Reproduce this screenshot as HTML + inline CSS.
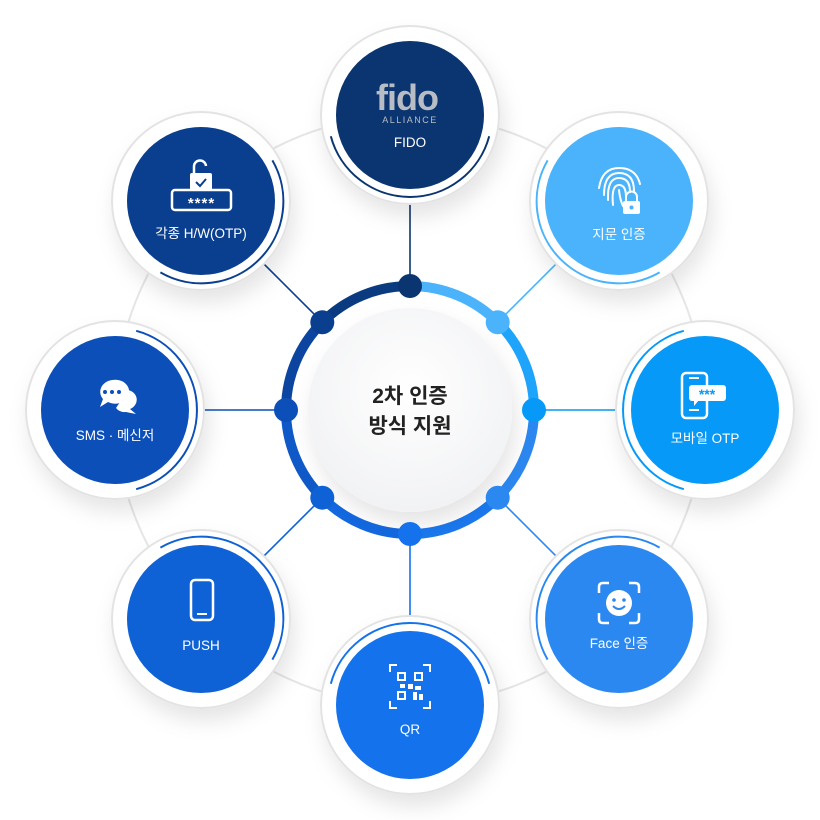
<!DOCTYPE html>
<html><head><meta charset="utf-8"><style>
html,body{margin:0;padding:0;background:#fff;}
svg{display:block;font-family:"Liberation Sans","Noto Sans CJK KR",sans-serif;}
</style></head><body>
<svg width="820" height="820" viewBox="0 0 820 820" xmlns="http://www.w3.org/2000/svg">
<defs>
<filter id="sh" x="-40%" y="-40%" width="180%" height="180%"><feDropShadow dx="4" dy="12" stdDeviation="10" flood-color="#000" flood-opacity="0.10"/></filter>
<radialGradient id="cg" cx="50%" cy="40%" r="60%"><stop offset="0" stop-color="#ffffff"/><stop offset="1" stop-color="#f1f2f4"/></radialGradient>
</defs>
<circle cx="410" cy="410" r="295" fill="none" stroke="#e6e6e6" stroke-width="2"/>
<g stroke-width="1.6">
<line x1="410" y1="286" x2="410" y2="200" stroke="#0b3570"/>
<line x1="410" y1="286" x2="410" y2="200" stroke="#4ab3fb" transform="rotate(45 410 410)"/>
<line x1="410" y1="286" x2="410" y2="200" stroke="#0699f7" transform="rotate(90 410 410)"/>
<line x1="410" y1="286" x2="410" y2="200" stroke="#2b88f0" transform="rotate(135 410 410)"/>
<line x1="410" y1="286" x2="410" y2="200" stroke="#1472ec" transform="rotate(180 410 410)"/>
<line x1="410" y1="286" x2="410" y2="200" stroke="#0f62d6" transform="rotate(225 410 410)"/>
<line x1="410" y1="286" x2="410" y2="200" stroke="#0c4fb8" transform="rotate(270 410 410)"/>
<line x1="410" y1="286" x2="410" y2="200" stroke="#0a3f8f" transform="rotate(315 410 410)"/>
</g>
<g fill="#fff" stroke="#e3e3e3" stroke-width="2" filter="url(#sh)">
<circle cx="410" cy="115" r="89"/>
<circle cx="619" cy="201" r="89"/>
<circle cx="705" cy="410" r="89"/>
<circle cx="619" cy="619" r="89"/>
<circle cx="410" cy="705" r="89"/>
<circle cx="201" cy="619" r="89"/>
<circle cx="115" cy="410" r="89"/>
<circle cx="201" cy="201" r="89"/>
</g>
<g fill="none" stroke-width="2">
<path d="M330.8,136.2 A82,82 0 0 0 489.2,136.2" stroke="#0b3570"/>
<path d="M330.8,136.2 A82,82 0 0 0 489.2,136.2" stroke="#4ab3fb" transform="rotate(45 410 410)"/>
<path d="M330.8,136.2 A82,82 0 0 0 489.2,136.2" stroke="#0699f7" transform="rotate(90 410 410)"/>
<path d="M330.8,136.2 A82,82 0 0 0 489.2,136.2" stroke="#2b88f0" transform="rotate(135 410 410)"/>
<path d="M330.8,136.2 A82,82 0 0 0 489.2,136.2" stroke="#1472ec" transform="rotate(180 410 410)"/>
<path d="M330.8,136.2 A82,82 0 0 0 489.2,136.2" stroke="#0f62d6" transform="rotate(225 410 410)"/>
<path d="M330.8,136.2 A82,82 0 0 0 489.2,136.2" stroke="#0c4fb8" transform="rotate(270 410 410)"/>
<path d="M330.8,136.2 A82,82 0 0 0 489.2,136.2" stroke="#0a3f8f" transform="rotate(315 410 410)"/>
</g>
<circle cx="410" cy="115" r="74" fill="#0b3570"/>
<circle cx="619" cy="201" r="74" fill="#4ab3fb"/>
<circle cx="705" cy="410" r="74" fill="#0699f7"/>
<circle cx="619" cy="619" r="74" fill="#2b88f0"/>
<circle cx="410" cy="705" r="74" fill="#1472ec"/>
<circle cx="201" cy="619" r="74" fill="#0f62d6"/>
<circle cx="115" cy="410" r="74" fill="#0c4fb8"/>
<circle cx="201" cy="201" r="74" fill="#0a3f8f"/>

<g fill="none" stroke-width="10">
<path d="M410,286 A124,124 0 0 1 497.7,322.3" stroke="#4ab3fb"/>
<path d="M497.7,322.3 A124,124 0 0 1 534,410" stroke="#1ea4fa"/>
<path d="M534,410 A124,124 0 0 1 497.7,497.7" stroke="#2b88f0"/>
<path d="M497.7,497.7 A124,124 0 0 1 410,534" stroke="#1a78ee"/>
<path d="M410,534 A124,124 0 0 1 322.3,497.7" stroke="#1368e0"/>
<path d="M322.3,497.7 A124,124 0 0 1 286,410" stroke="#0e58c8"/>
<path d="M286,410 A124,124 0 0 1 322.3,322.3" stroke="#0b45a0"/>
<path d="M322.3,322.3 A124,124 0 0 1 410,286" stroke="#0a3a80"/>
</g>
<circle cx="410" cy="410" r="102" fill="url(#cg)" filter="url(#sh)"/>
<g>
<circle cx="410" cy="286" r="12" fill="#0b3570"/>
<circle cx="497.7" cy="322.3" r="12" fill="#4ab3fb"/>
<circle cx="534" cy="410" r="12" fill="#0699f7"/>
<circle cx="497.7" cy="497.7" r="12" fill="#2b88f0"/>
<circle cx="410" cy="534" r="12" fill="#1472ec"/>
<circle cx="322.3" cy="497.7" r="12" fill="#0f62d6"/>
<circle cx="286" cy="410" r="12" fill="#0c4fb8"/>
<circle cx="322.3" cy="322.3" r="12" fill="#0a3f8f"/>
</g>
<text x="410" y="403" text-anchor="middle" font-size="21" font-weight="bold" fill="#222">2차 인증</text>
<text x="410" y="433" text-anchor="middle" font-size="21" font-weight="bold" fill="#222">방식 지원</text>

<g fill="#fff" font-size="13.5" text-anchor="middle">
<text x="410" y="147">FIDO</text>
<text x="619" y="239">지문 인증</text>
<text x="705" y="443">모바일 OTP</text>
<text x="619" y="648">Face 인증</text>
<text x="410" y="734">QR</text>
<text x="201" y="650">PUSH</text>
<text x="115" y="440">SMS · 메신저</text>
<text x="201" y="238">각종 H/W(OTP)</text>
</g>

<text x="407" y="110" text-anchor="middle" font-size="36" font-weight="bold" fill="#b8bcc4" letter-spacing="-1">fido</text>
<text x="410" y="123" text-anchor="middle" font-size="9" fill="#b8bcc4" letter-spacing="1.5">ALLIANCE</text>

<g fill="none" stroke="#fff" stroke-width="2" stroke-linecap="round">
<path d="M604,195 q0,-22 15,-22 q15,0 15,18"/>
<path d="M608,200 q-1,-22 11,-22 q11,0 11,14"/>
<path d="M613,205 q-2,-20 6,-20 q7,0 7,12"/>
<path d="M619,190 q1,10 4,16"/>
<path d="M599,188 q3,-20 20,-20 q17,0 21,16"/>
</g>
<rect x="623" y="201" width="17" height="13" rx="2" fill="#fff"/>
<path d="M626,201 v-4 a5,5 0 0 1 11,0 v4" fill="none" stroke="#fff" stroke-width="2"/>
<circle cx="631.5" cy="207.5" r="2" fill="#4ab3fb"/>

<rect x="682" y="373" width="25" height="45" rx="4" fill="none" stroke="#fff" stroke-width="2.5"/>
<rect x="689" y="409" width="10" height="2" fill="#fff"/>
<rect x="689" y="377" width="10" height="2" fill="#fff"/>
<rect x="689" y="385" width="37" height="16" rx="3" fill="#fff"/>
<path d="M694,400 v6 l5,-6z" fill="#fff"/>
<text x="707" y="399" text-anchor="middle" font-size="14" font-weight="bold" fill="#0699f7">***</text>

<g fill="none" stroke="#fff" stroke-width="2.5">
<path d="M599,593 v-6 q0,-4 4,-4 h6"/><path d="M629,583 h6 q4,0 4,4 v6"/>
<path d="M599,613 v6 q0,4 4,4 h6"/><path d="M629,623 h6 q4,0 4,-4 v-6"/>
</g>
<circle cx="619" cy="603" r="13" fill="#fff"/>
<circle cx="614" cy="600" r="1.8" fill="#2b88f0"/><circle cx="624" cy="600" r="1.8" fill="#2b88f0"/>
<path d="M613,606 q6,6 12,0" fill="none" stroke="#2b88f0" stroke-width="2"/>

<g fill="none" stroke="#fff" stroke-width="2">
<path d="M390,672 v-7 h7"/><path d="M423,665 h7 v7"/><path d="M390,701 v7 h7"/><path d="M423,708 h7 v-7"/>
</g>
<g fill="#fff">
<rect x="397" y="672" width="9" height="9"/><rect x="414" y="672" width="9" height="9"/><rect x="397" y="691" width="9" height="9"/>
<rect x="408" y="684" width="5" height="5"/><rect x="415" y="686" width="6" height="4"/><rect x="413" y="692" width="4" height="8"/><rect x="419" y="694" width="4" height="6"/><rect x="400" y="684" width="5" height="4"/>
</g>
<g fill="#1472ec"><rect x="399" y="674" width="5" height="5"/><rect x="416" y="674" width="5" height="5"/><rect x="399" y="693" width="5" height="5"/></g>

<rect x="191" y="580" width="22" height="40" rx="4" fill="none" stroke="#fff" stroke-width="2.5"/>
<rect x="197" y="613" width="10" height="2" fill="#fff"/>

<g transform="translate(0,-12)">
<path d="M112,392 a14,12 0 1 1 -4,22 l-8,5 l3,-8 a14,12 0 0 1 9,-19z" fill="#fff"/>
<path d="M128,402 a11,10 0 0 1 2,19 l6,5 l-10,-2 a11,10 0 0 1 -10,-4" fill="#fff"/>
<circle cx="105" cy="404" r="2" fill="#0c4fb8"/><circle cx="112" cy="404" r="2" fill="#0c4fb8"/><circle cx="119" cy="404" r="2" fill="#0c4fb8"/>
</g>

<rect x="172" y="190" width="59" height="20" rx="3" fill="none" stroke="#fff" stroke-width="2.5"/>
<text x="201.5" y="208" text-anchor="middle" font-size="15" font-weight="bold" fill="#fff" letter-spacing="1">****</text>
<rect x="190" y="173" width="22" height="18" rx="2" fill="#fff"/>
<path d="M194,173 v-6 a6,6 0 0 1 12,-1" fill="none" stroke="#fff" stroke-width="2.5"/>
<path d="M196,182 l4,4 l6,-7" fill="none" stroke="#0a3f8f" stroke-width="2"/>
</svg>
</body></html>
